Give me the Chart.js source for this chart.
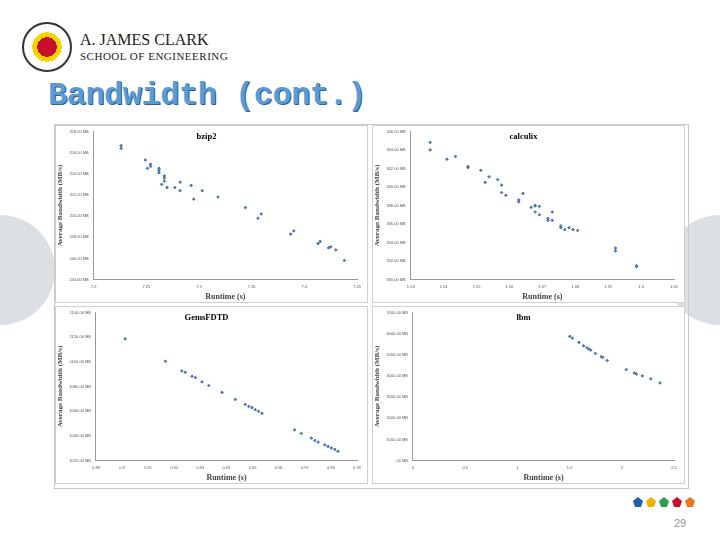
<!DOCTYPE html>
<html><head><meta charset="utf-8">
<script src="https://cdn.jsdelivr.net/npm/chart.js@4.4.0/dist/chart.umd.min.js"></script>
<style>
body{margin:0;width:720px;height:540px;background:#fff;position:relative;overflow:hidden;font-family:"Liberation Serif",serif}
.panel{position:absolute;width:313px;height:178px;border:1px solid #d0d0d0;background:#fff;box-sizing:border-box}
.panel canvas{position:absolute;left:0;top:0}
.semi{position:absolute;width:110px;height:110px;border-radius:50%;background:#dcdfe3;top:215px}
</style></head><body>
<div class="semi" style="left:-55px"></div>
<div class="semi" style="left:665px"></div>
<div style="position:absolute;left:22px;top:22px;width:50px;height:50px;border-radius:50%;border:2px solid #333;box-sizing:border-box;background:radial-gradient(circle,#c8102e 0 30%,#ffd200 30% 45%,#fff 45%)"></div>
<div style="position:absolute;left:80px;top:31px;font-size:16px;color:#222;font-family:'Liberation Serif'">A. JAMES CLARK</div>
<div style="position:absolute;left:80px;top:50px;font-size:11px;color:#222;letter-spacing:0.5px;font-family:'Liberation Serif'">SCHOOL OF ENGINEERING</div>
<div style="position:absolute;left:48px;top:77px;font-size:32px;font-weight:bold;color:#5b9bd5;font-family:'Liberation Mono','DejaVu Sans Mono',monospace;letter-spacing:-0.5px;text-shadow:1px 1px 0 #2e5f8f,-1px -1px 0 #fff">Bandwidth (cont.)</div>
<div style="position:absolute;left:54px;top:124px;width:633px;height:363px;border:1px solid #c8c8c8"></div>
<div class="panel" style="left:55px;top:125px"><canvas id="c1" width="313" height="178"></canvas></div>
<div class="panel" style="left:372px;top:125px"><canvas id="c2" width="313" height="178"></canvas></div>
<div class="panel" style="left:55px;top:306px"><canvas id="c3" width="313" height="178"></canvas></div>
<div class="panel" style="left:372px;top:306px"><canvas id="c4" width="313" height="178"></canvas></div>
<div style="position:absolute;left:674px;top:517px;font-size:11px;color:#999;font-family:'Liberation Sans'">29</div>
<svg style="position:absolute;left:632px;top:496px" width="64" height="14">
<polygon points="6,1 11,5 9,11 3,11 1,5" fill="#1f5fa8"/>
<polygon points="19,1 24,5 22,11 16,11 14,5" fill="#f0b400"/>
<polygon points="32,1 37,5 35,11 29,11 27,5" fill="#2e9d49"/>
<polygon points="45,1 50,5 48,11 42,11 40,5" fill="#c8102e"/>
<polygon points="58,1 63,5 61,11 55,11 53,5" fill="#e87722"/>
</svg>
<script>
const bzipX=[7.226,7.226,7.249,7.251,7.254,7.254,7.262,7.262,7.262,7.267,7.267,7.267,7.2645,7.2696,7.277,7.282,7.282,7.2925,7.295,7.303,7.318,7.344,7.356,7.359,7.387,7.390,7.413,7.415,7.423,7.425,7.430,7.438];
const bzipY=[256.66,256.4,255.3,254.5,254.9,254.7,254.5,254.3,254.1,253.8,253.6,253.3,253.0,252.7,252.7,253.2,252.4,252.9,251.6,252.4,251.8,250.8,249.8,250.2,248.3,248.6,247.4,247.6,247.0,247.1,246.8,245.8];
const calcX=[1.5359,1.5359,1.5410,1.5436,1.5474,1.5474,1.5513,1.5526,1.5538,1.5564,1.5576,1.5576,1.5589,1.5628,1.5628,1.5641,1.5666,1.5678,1.5678,1.5691,1.5678,1.5691,1.5717,1.5717,1.5730,1.5730,1.5756,1.5756,1.5768,1.5781,1.5793,1.5807,1.5922,1.5922,1.5986,1.5986];
const calcY=[344.8,344.0,343.0,343.3,342.2,342.1,341.8,340.5,341.1,340.8,340.2,339.4,339.1,338.6,338.4,339.3,337.8,338.0,337.95,337.9,337.3,337.0,336.6,336.4,337.3,336.4,335.8,335.6,335.4,335.6,335.4,335.3,333.4,333.1,331.5,331.4];
const gemsX=[0.9012,0.9166,0.9229,0.9242,0.9268,0.9281,0.9306,0.9332,0.9383,0.9434,0.9472,0.9485,0.9498,0.9510,0.9523,0.9536,0.9661,0.9687,0.9725,0.9738,0.9751,0.9776,0.9789,0.9802,0.9815,0.9827];
const gemsY=[1118.6,1100.4,1092.6,1091.5,1088.3,1087.2,1083.7,1080.8,1075.2,1069.5,1065.5,1063.9,1062.9,1061.2,1059.9,1058.3,1044.9,1042.0,1038.2,1036.3,1035.0,1032.8,1031.5,1030.2,1029.1,1027.5];
const lbmX=[1.502,1.527,1.590,1.634,1.666,1.685,1.703,1.748,1.804,1.817,1.861,2.044,2.12,2.139,2.196,2.278,2.366];
const lbmY=[5870,5780,5580,5420,5330,5270,5220,5060,4910,4880,4730,4300,4140,4090,4000,3860,3670];
const panels=[
 {id:'c1',title:'bzip2',x:bzipX,y:bzipY,xmin:7.2,xmax:7.45,xs:0.05,ymin:244,ymax:258,ys:2},
 {id:'c2',title:'calculix',x:calcX,y:calcY,xmin:1.53,xmax:1.61,xs:0.01,ymin:330,ymax:346,ys:2},
 {id:'c3',title:'GemsFDTD',x:gemsX,y:gemsY,xmin:0.89,xmax:0.99,xs:0.01,ymin:1020,ymax:1140,ys:20},
 {id:'c4',title:'lbm',x:lbmX,y:lbmY,xmin:0,xmax:2.5,xs:0.5,ymin:0,ymax:7000,ys:1000}
];
const fmtX=v=>String(parseFloat(v.toFixed(3)));
const fmtY=v=>v===0?'.00 MB':v.toFixed(2)+' MB';
panels.forEach(p=>{
 new Chart(document.getElementById(p.id),{
  type:'scatter',
  data:{datasets:[{data:p.x.map((v,i)=>({x:v,y:p.y[i]})),backgroundColor:'#4a76b0',borderColor:'#4a76b0',pointRadius:1.35,pointStyle:'rectRot'}]},
  options:{responsive:false,animation:false,
   layout:{padding:{top:0,right:12,left:0,bottom:0}},
   plugins:{legend:{display:false},tooltip:{enabled:false},
    title:{display:true,text:p.title,font:{family:'Liberation Serif',size:8.5,weight:'bold'},color:'#000',padding:{top:4,bottom:-10}}},
   scales:{
    x:{type:'linear',min:p.xmin,max:p.xmax,
      afterBuildTicks:a=>{const t=[];const n=Math.round((p.xmax-p.xmin)/p.xs);for(let i=0;i<=n;i++)t.push({value:p.xmin+i*p.xs});a.ticks=t;},
      ticks:{callback:v=>fmtX(v),font:{size:4},color:'#555',maxRotation:0,padding:3},
      grid:{display:false,drawTicks:true,tickLength:2,color:'#999'},border:{color:'#999'},
      title:{display:true,text:'Runtime (s)',font:{family:'Liberation Serif',size:8,weight:'bold'},color:'#444',padding:{top:0,bottom:2}}},
    y:{type:'linear',min:p.ymin,max:p.ymax,
      afterBuildTicks:a=>{const t=[];const n=Math.round((p.ymax-p.ymin)/p.ys);for(let i=0;i<=n;i++)t.push({value:p.ymin+i*p.ys});a.ticks=t;},
      ticks:{callback:v=>fmtY(v),font:{size:4},color:'#555',padding:3},
      grid:{display:false,tickLength:2,color:'#999'},border:{color:'#999'},
      title:{display:true,text:'Average Bandwidth (MB/s)',font:{family:'Liberation Serif',size:7,weight:'bold'},color:'#444',padding:{top:0,bottom:2}}}
   }}
 });
});
</script>
</body></html>
